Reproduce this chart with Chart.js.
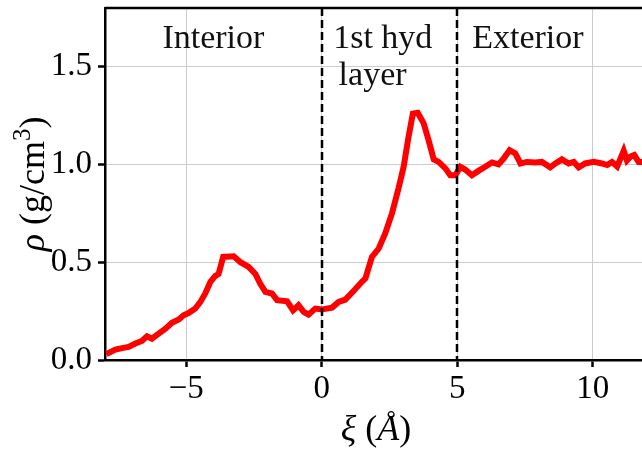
<!DOCTYPE html>
<html>
<head>
<meta charset="utf-8">
<script src="https://cdn.jsdelivr.net/npm/chart.js@4/dist/chart.umd.min.js"></script>
<style>
  html, body { margin: 0; padding: 0; background: #fff; overflow: hidden; }
  #wrap { width: 642px; height: 450px; overflow: hidden; }
</style>
</head>
<body>
<div id="wrap"><canvas id="myChart" width="650" height="450"></canvas></div>
<script>
// density profile
var xValues = [-7.95, -7.62, -7.37, -7.13, -6.88, -6.64, -6.45, -6.27, -6.02, -5.77,
  -5.53, -5.28, -5.10, -4.92, -4.67, -4.48, -4.30, -4.11, -3.93, -3.81,
  -3.64, -3.25, -3.00, -2.70, -2.45, -2.27, -2.08, -1.84, -1.65, -1.28,
  -1.06, -0.86, -0.67, -0.49, -0.24, 0.00, 0.07, 0.38, 0.62, 0.87,
  1.17, 1.48, 1.61, 1.85, 2.10, 2.34, 2.59, 2.83, 3.02, 3.20,
  3.36, 3.54, 3.76, 3.94, 4.13, 4.31, 4.56, 4.74, 4.93, 5.11,
  5.29, 5.54, 5.78, 6.03, 6.28, 6.52, 6.71, 6.93, 7.14, 7.33,
  7.57, 7.88, 8.12, 8.43, 8.62, 8.86, 9.11, 9.30, 9.48, 9.72,
  10.03, 10.34, 10.53, 10.71, 10.90, 11.02, 11.14, 11.26, 11.39, 11.53,
  11.69, 11.82, 12.00];
var yValues = [0.030, 0.053, 0.061, 0.067, 0.084, 0.097, 0.121, 0.109, 0.135, 0.160,
  0.190, 0.207, 0.229, 0.240, 0.263, 0.297, 0.340, 0.400, 0.430, 0.440,
  0.527, 0.530, 0.500, 0.476, 0.440, 0.390, 0.348, 0.340, 0.306, 0.300,
  0.254, 0.280, 0.246, 0.232, 0.263, 0.258, 0.260, 0.268, 0.297, 0.309,
  0.353, 0.400, 0.417, 0.527, 0.570, 0.647, 0.750, 0.877, 0.988, 1.140,
  1.260, 1.264, 1.210, 1.124, 1.026, 1.013, 0.980, 0.945, 0.945, 0.988,
  0.974, 0.945, 0.967, 0.988, 1.010, 1.000, 1.030, 1.073, 1.056, 1.005,
  1.013, 1.010, 1.013, 0.985, 1.005, 1.026, 1.005, 1.013, 0.985, 1.005,
  1.013, 1.005, 0.997, 1.013, 0.990, 1.030, 1.070, 1.020, 1.040, 1.048,
  1.013, 1.013, 1.010];

var xTicks = [-5, 0, 5, 10];
var yTicks = [0.0, 0.5, 1.0, 1.5];
var boundaries = [0, 5];

// region labels: text, x (data), y (data, baseline), align
var regionTexts = ["Interior", "1st hyd", "layer", "Exterior"];
var regionX = [-4.0, 0.42, 0.62, 5.55];
var regionY = [1.595, 1.595, 1.405, 1.595];
var regionAlign = ["center", "left", "left", "left"];

var serif = "'Liberation Serif', 'Times New Roman', serif";

var points = xValues.map(function(x, i) { return {x: x, y: yValues[i]}; });

// draw a run of [font, text, raise] pieces starting at x0
function drawRun(c, parts, x0, y0) {
  parts.forEach(function(p) {
    c.font = p[0];
    c.fillText(p[1], x0, y0 - (p[2] || 0));
    x0 += c.measureText(p[1]).width;
  });
}
function runWidth(c, parts) {
  var w = 0;
  parts.forEach(function(p) { c.font = p[0]; w += c.measureText(p[1]).width; });
  return w;
}

var extras = {
  id: "extras",
  afterDatasetsDraw: function(chart) {
    var c = chart.ctx, a = chart.chartArea;
    var xs = chart.scales.x, ys = chart.scales.y;
    c.save();
    // dashed boundaries
    c.strokeStyle = "#000";
    c.lineWidth = 2.5;
    c.setLineDash([8, 4]);
    boundaries.forEach(function(b) {
      var px = Math.round(xs.getPixelForValue(b));
      c.beginPath();
      c.moveTo(px, a.top);
      c.lineTo(px, a.bottom);
      c.stroke();
    });
    c.setLineDash([]);
    // top and right frame
    c.lineWidth = 2.5;
    c.beginPath();
    c.moveTo(a.left, a.top);
    c.lineTo(a.right, a.top);
    c.lineTo(a.right, a.bottom);
    c.stroke();
    // region labels
    c.fillStyle = "#111";
    c.font = "34px " + serif;
    c.textBaseline = "alphabetic";
    regionTexts.forEach(function(t, i) {
      c.textAlign = regionAlign[i];
      c.fillText(t, xs.getPixelForValue(regionX[i]), ys.getPixelForValue(regionY[i]));
    });
    c.restore();
  },
  afterDraw: function(chart) {
    var c = chart.ctx, a = chart.chartArea;
    c.save();
    c.fillStyle = "#000";
    c.textBaseline = "alphabetic";
    c.textAlign = "left";
    // x title: ξ (Å)
    var parts = [["italic 36px " + serif, "\u03BE"], ["36px " + serif, " ("], ["italic 36px " + serif, "\u00C5"], ["36px " + serif, ")"]];
    drawRun(c, parts, 376 - runWidth(c, parts) / 2, 440);
    // y title: ρ (g/cm³)
    c.translate(44, (a.top + a.bottom) / 2);
    c.rotate(-Math.PI / 2);
    parts = [["italic 36px " + serif, "\u03C1"], ["36px " + serif, " (g/cm"], ["25px " + serif, "3", 14], ["36px " + serif, ")"]];
    drawRun(c, parts, -runWidth(c, parts) / 2, 0);
    c.restore();
  }
};

const ctx = document.getElementById("myChart");
new Chart(ctx, {
  type: "line",
  data: {
    datasets: [{
      data: points,
      borderColor: "#ff0000",
      borderWidth: 6,
      pointRadius: 0,
      tension: 0,
      fill: false
    }]
  },
  options: {
    responsive: false,
    animation: false,
    layout: { padding: { top: 8, right: 3, left: 0, bottom: 0 } },
    plugins: { legend: { display: false }, tooltip: { enabled: false } },
    scales: {
      x: {
        type: "linear",
        min: -8,
        max: 12,
        afterBuildTicks: function(s) { s.ticks = xTicks.map(function(v) { return {value: v}; }); },
        afterFit: function(s) { s.height = 90; s.paddingLeft = 0; s.paddingRight = 0; },
        ticks: {
          color: "#000",
          font: { family: serif, size: 33 },
          padding: 3,
          maxRotation: 0,
          callback: function(v) { return v < 0 ? "\u2212" + Math.abs(v) : String(v); }
        },
        grid: { color: "#cccccc", lineWidth: 1, tickColor: "#000", tickLength: 7, tickWidth: 2.5 },
        border: { color: "#000", width: 2.5 }
      },
      y: {
        min: 0,
        max: 1.8,
        afterBuildTicks: function(s) { s.ticks = yTicks.map(function(v) { return {value: v}; }); },
        afterFit: function(s) { s.width = 105; s.paddingTop = 0; s.paddingBottom = 0; },
        ticks: {
          color: "#000",
          font: { family: serif, size: 33 },
          padding: 6,
          callback: function(v) { return v.toFixed(1); }
        },
        grid: { color: "#cccccc", lineWidth: 1, tickColor: "#000", tickLength: 7, tickWidth: 2.5 },
        border: { color: "#000", width: 2.5 }
      }
    }
  },
  plugins: [extras]
});
</script>
</body>
</html>
